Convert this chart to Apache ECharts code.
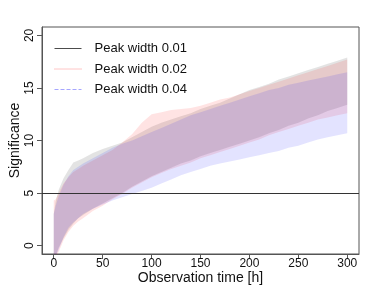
<!DOCTYPE html>
<html>
<head>
<meta charset="utf-8">
<script src="https://cdn.jsdelivr.net/npm/echarts@6/dist/echarts.min.js"></script>
<style>html,body{margin:0;padding:0;background:#fff}#c{width:374px;height:289px}</style>
</head>
<body>
<div id="c"></div>
<script>
var hours = [0, 2, 5, 10, 15, 20, 25, 30, 40, 50, 60, 70, 80, 90, 100, 110, 120, 130, 140, 150, 160, 170, 180, 190, 200, 210, 220, 230, 240, 250, 260, 270, 280, 290, 300];

var w001Upper = [3.0, 4.2, 5.3, 6.4, 7.2, 7.9, 8.1, 8.3, 8.8, 9.2, 9.5, 9.8, 10.3, 10.8, 11.3, 11.7, 12.0, 12.3, 12.6, 13.0, 13.3, 13.6, 14.0, 14.4, 14.8, 15.1, 15.4, 15.8, 16.1, 16.4, 16.7, 17.0, 17.3, 17.6, 17.9];
var w001Lower = [-1.5, -1.0, -0.2, 0.7, 1.5, 2.1, 2.6, 2.9, 3.5, 4.0, 4.5, 5.0, 5.6, 6.1, 6.6, 7.0, 7.4, 7.8, 8.1, 8.5, 8.8, 9.1, 9.4, 9.7, 10.0, 10.3, 10.7, 11.0, 11.4, 11.7, 12.1, 12.4, 12.8, 13.1, 13.4];

var w002Upper = [4.3, 4.4, 5.0, 5.9, 6.5, 7.0, 7.3, 7.6, 8.1, 8.6, 9.1, 9.8, 10.6, 11.7, 12.5, 12.7, 12.9, 13.0, 13.1, 13.3, 13.6, 13.9, 14.1, 14.4, 14.7, 15.0, 15.3, 15.6, 15.9, 16.2, 16.5, 16.8, 17.1, 17.4, 17.7];
var w002Lower = [-1.5, -1.2, -0.6, 0.5, 1.3, 1.9, 2.3, 2.6, 3.3, 3.8, 4.4, 4.9, 5.5, 6.0, 6.5, 6.9, 7.3, 7.6, 7.9, 8.3, 8.6, 8.9, 9.2, 9.5, 9.8, 10.1, 10.5, 10.8, 11.1, 11.4, 11.7, 12.0, 12.2, 12.4, 12.6];

var w004Upper = [3.0, 3.8, 4.7, 5.8, 6.6, 7.2, 7.5, 7.8, 8.3, 8.8, 9.3, 9.7, 10.0, 10.4, 10.8, 11.2, 11.6, 12.0, 12.4, 12.7, 13.0, 13.3, 13.6, 13.9, 14.2, 14.5, 14.8, 15.0, 15.3, 15.5, 15.7, 15.9, 16.1, 16.3, 16.5];
var w004Lower = [-1.5, -1.0, -0.4, 0.8, 1.7, 2.2, 2.6, 3.0, 3.5, 3.9, 4.3, 4.6, 4.9, 5.2, 5.5, 5.9, 6.3, 6.7, 7.0, 7.3, 7.6, 7.8, 8.0, 8.2, 8.4, 8.6, 8.8, 9.0, 9.3, 9.5, 9.8, 10.1, 10.3, 10.5, 10.7];

var seriesNames = ['Peak width 0.01', 'Peak width 0.02', 'Peak width 0.04'];
var xTicks = [0, 50, 100, 150, 200, 250, 300];
var yTicks = [0, 5, 10, 15, 20];
var threshold = 5;

var bands = [
  {upper: w001Upper, lower: w001Lower, fill: 'rgba(0,0,0,0.11)'},
  {upper: w002Upper, lower: w002Lower, fill: 'rgba(255,0,0,0.11)'},
  {upper: w004Upper, lower: w004Lower, fill: 'rgba(0,0,255,0.11)'}
];

function bandSeries(b) {
  return {
    type: 'custom',
    silent: true,
    data: [[0, 0]],
    renderItem: function (params, api) {
      var pts = [];
      for (var i = 0; i < hours.length; i++) pts.push(api.coord([hours[i], b.upper[i]]));
      for (var j = hours.length - 1; j >= 0; j--) pts.push(api.coord([hours[j], b.lower[j]]));
      var cs = params.coordSys;
      return {
        type: 'polygon',
        shape: {points: pts},
        style: {fill: b.fill, stroke: null},
        clipPath: {type: 'rect', shape: {x: cs.x, y: cs.y, width: cs.width, height: cs.height}}
      };
    }
  };
}

var FONT = 'Liberation Sans';
var legendLines = [
  {color: 'rgba(0,0,0,0.7)', type: 'solid'},
  {color: 'rgba(255,0,0,0.45)', type: 'dotted'},
  {color: 'rgba(0,0,255,0.35)', type: 'dashed'}
];

var series = [];
seriesNames.forEach(function (n, i) {
  series.push({
    name: n, type: 'line', data: [], symbol: 'none', showSymbol: false,
    lineStyle: {color: legendLines[i].color, type: legendLines[i].type, width: 1},
    itemStyle: {color: legendLines[i].color}
  });
});
bands.forEach(function (b) { series.push(bandSeries(b)); });
series.push({
  type: 'line', data: [], symbol: 'none', silent: true,
  markLine: {
    silent: true, symbol: 'none', animation: false,
    label: {show: false},
    lineStyle: {color: '#333', type: 'solid', width: 1},
    data: [{yAxis: threshold}]
  }
});

var chart = echarts.init(document.getElementById('c'), null, {renderer: 'canvas'});
chart.setOption({
  animation: false,
  backgroundColor: '#fff',
  textStyle: {fontFamily: FONT},
  grid: {left: 42, right: 15, top: 27, bottom: 35, show: true, borderColor: '#555', borderWidth: 1, backgroundColor: 'transparent', containLabel: false, outerBoundsMode: 'none'},
  legend: {
    orient: 'vertical', left: 54, top: 42, padding: 0,
    itemWidth: 27, itemHeight: 14, itemGap: 7.5,
    itemStyle: {opacity: 0},
    lineStyle: {width: 1},
    textStyle: {fontFamily: FONT, fontSize: 13, color: '#111', padding: [0, 0, 0, 8]},
    data: seriesNames
  },
  xAxis: {
    type: 'value', min: -12, max: 312,
    axisLine: {show: true, onZero: false, lineStyle: {color: '#555', width: 1}},
    splitLine: {show: false},
    axisTick: {show: true, inside: false, length: 5, lineStyle: {color: '#555'}, customValues: xTicks},
    axisLabel: {customValues: xTicks, fontFamily: FONT, fontSize: 12, color: '#111', margin: 4},
    name: 'Observation time [h]', nameLocation: 'middle', nameGap: 17, nameMoveOverlap: false,
    nameTextStyle: {fontFamily: FONT, fontSize: 14, color: '#111'}
  },
  yAxis: {
    type: 'value', min: -0.8, max: 20.8,
    axisLine: {show: true, onZero: false, lineStyle: {color: '#555', width: 1}},
    splitLine: {show: false},
    axisTick: {show: true, inside: false, length: 5, lineStyle: {color: '#555'}, customValues: yTicks},
    axisLabel: {customValues: yTicks, rotate: 90, align: 'center', verticalAlign: 'bottom', fontFamily: FONT, fontSize: 12, color: '#111', margin: 6},
    name: 'Significance', nameLocation: 'middle', nameGap: 20, nameMoveOverlap: false,
    nameTextStyle: {fontFamily: FONT, fontSize: 14, color: '#111'}
  },
  series: series
});
</script>
</body>
</html>
